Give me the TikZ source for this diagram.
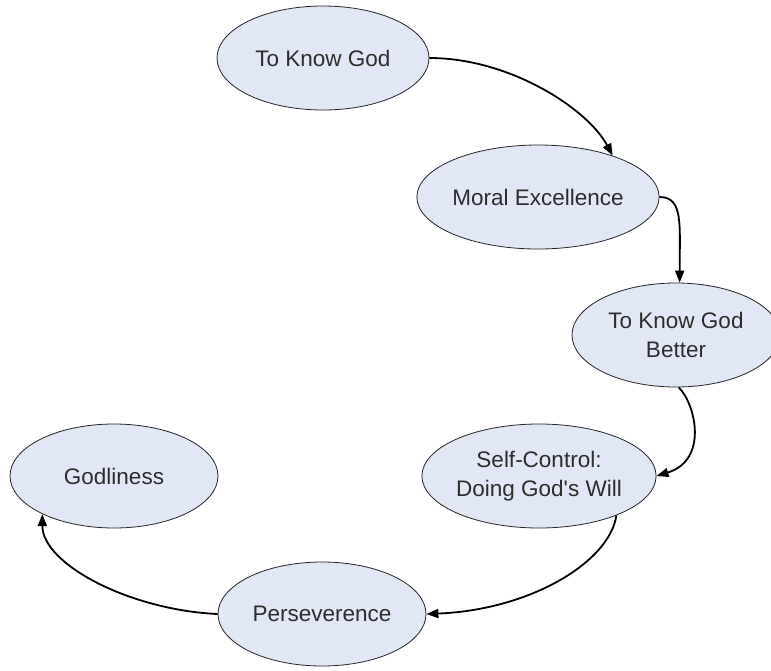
\documentclass[tikz,border=0pt]{standalone}
\usepackage{fontspec}
\setmainfont{Liberation Sans}
\usetikzlibrary{shapes.geometric,arrows.meta}
\definecolor{nodefill}{RGB}{225,231,244}
\definecolor{nodetext}{RGB}{45,45,45}
\tikzset{
  oval/.style={ellipse, draw=black!85, line width=0.8pt, fill=nodefill,
    minimum width=208pt, minimum height=104pt, inner sep=0pt,
    align=center, text=nodetext, font=\fontsize{22.5}{28.5}\selectfont},
  conn/.style={draw=black, line width=1.8pt, -{Triangle[length=12pt,width=9pt]}}
}
\begin{document}
\begin{tikzpicture}[x=1pt,y=-1pt]
\fill[white] (0,0) rectangle (771,670);
\useasboundingbox (0,0) rectangle (771,670);
\node[oval, minimum width=212pt] (e1) at (323,58) {To Know God};
\node[oval, minimum width=206pt] (e2) at (538,197) {Moral Excellence};
\node[oval] (e3) at (676,335) {To Know God\\Better};
\node[oval] (e4) at (539,476) {Self-Control:\\Doing God\textquotesingle s Will};
\node[oval] (e6) at (114,476) {Godliness};
\node[oval] (e5) at (322,614) {Perseverence};
\draw[conn] (e1.east) .. controls +(80,0) and +(-25,-47) .. (e2.29);
\draw[conn] (e2.east) .. controls +(24,0) and +(0,-58) .. (e3.86);
\draw[conn] (e3.-87) .. controls +(17,17) and +(52,-16) .. (e4.east);
\draw[conn] (e4.-27) .. controls +(-7,47) and +(103,-4) .. (e5.east);
\draw[conn] (e5.west) .. controls +(-88,-4) and +(0,50) .. (e6.208);
\end{tikzpicture}
\end{document}
